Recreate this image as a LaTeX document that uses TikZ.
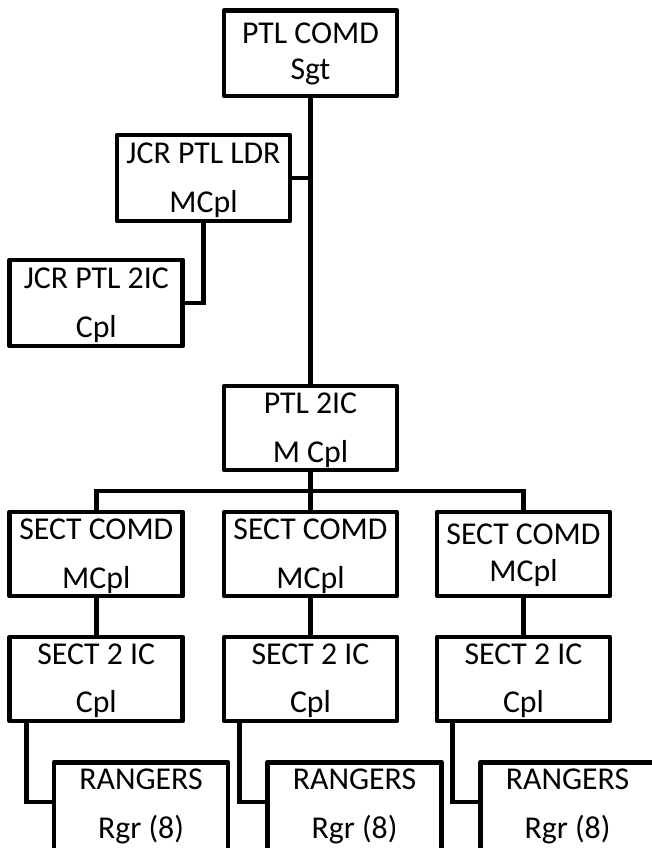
\documentclass[tikz,border=0pt]{standalone}
\usepackage{fontspec}
\setmainfont{Carlito}
\usetikzlibrary{calc}
\tikzset{
  box/.style={draw=black, line width=4.7pt, line join=round, fill=white, minimum width=173pt, inner sep=0pt},
  txt/.style={anchor=base, inner sep=0pt, font=\fontsize{31.8}{38}\selectfont},
  conn/.style={draw=black, line width=4.7pt, line join=miter}
}
\begin{document}
\begin{tikzpicture}[x=1pt,y=-1pt]
\useasboundingbox (0,0) rectangle (652,848);
\clip (0,0) rectangle (652,848);
\fill[white] (0,0) rectangle (652,848);

% boxes
\node[box, minimum height=85.5pt] (comd) at (310.5,53.3) {};
\node[box, minimum height=86pt] (ldr) at (203.5,178) {};
\node[box, minimum height=86pt] (jic) at (96.3,303) {};
\node[box, minimum height=84pt] (pic) at (310.5,428) {};
\node[box, minimum height=84pt] (sca) at (96.3,554) {};
\node[box, minimum height=84pt] (scb) at (310.5,554) {};
\node[box, minimum height=84pt] (scc) at (523.5,554) {};
\node[box, minimum height=84pt] (sia) at (96.3,679) {};
\node[box, minimum height=84pt] (sib) at (310.5,679) {};
\node[box, minimum height=84pt] (sic) at (523.5,679) {};
\node[box, minimum width=174pt, minimum height=108pt] (rga) at (141,816.25) {};
\node[box, minimum width=174pt, minimum height=108pt] (rgb) at (354.5,816.25) {};
\node[box, minimum width=174pt, minimum height=108pt] (rgc) at (567.5,816.25) {};

\coordinate (bus) at (310.5,491);

% connectors
\draw[conn] (comd.south) -- (pic.north);
\draw[conn] (ldr.east) -- (ldr.east -| comd.south);
\draw[conn] (ldr.south) |- (jic.east);
\draw[conn] (pic.south) -- (scb.north);
\draw[conn] (sca.north) |- (bus) -| (scc.north);
\draw[conn] (sca.south) -- (sia.north);
\draw[conn] (scb.south) -- (sib.north);
\draw[conn] (scc.south) -- (sic.north);
\draw[conn] ($(sia.south west)+(19,0)$) |- ($(rga.north west)+(0,42)$);
\draw[conn] ($(sib.south west)+(18,0)$) |- ($(rgb.north west)+(0,42)$);
\draw[conn] ($(sic.south west)+(18,0)$) |- ($(rgc.north west)+(0,42)$);

% texts
\node[txt] (t1) at (310.5,44) {PTL COMD};
\node[txt] (t2) at (310.5,80) {Sgt};
\node[txt] (t3) at (203.5,163) {JCR PTL LDR};
\node[txt] (t4) at (203.5,212) {MCpl};
\node[txt] (t5) at (96.3,288) {JCR PTL 2IC};
\node[txt] (t6) at (96.3,337) {Cpl};
\node[txt] (t7) at (310.5,413) {PTL 2IC};
\node[txt] (t8) at (310.5,462) {M Cpl};
\node[txt] (t9) at (96.3,539) {SECT COMD};
\node[txt] (t10) at (96.3,588) {MCpl};
\node[txt] (t11) at (310.5,539) {SECT COMD};
\node[txt] (t12) at (310.5,588) {MCpl};
\node[txt] (t13) at (523.5,544) {SECT COMD};
\node[txt] (t14) at (523.5,581) {MCpl};
\node[txt] (t15) at (96.3,664) {SECT 2 IC};
\node[txt] (t16) at (96.3,712) {Cpl};
\node[txt] (t17) at (310.5,664) {SECT 2 IC};
\node[txt] (t18) at (310.5,712) {Cpl};
\node[txt] (t19) at (523.5,664) {SECT 2 IC};
\node[txt] (t20) at (523.5,712) {Cpl};
\node[txt] (t21) at (141,789) {RANGERS};
\node[txt] (t22) at (141,838) {Rgr (8)};
\node[txt] (t23) at (354.5,789) {RANGERS};
\node[txt] (t24) at (354.5,838) {Rgr (8)};
\node[txt] (t25) at (567.5,789) {RANGERS};
\node[txt] (t26) at (567.5,838) {Rgr (8)};
\end{tikzpicture}
\end{document}
